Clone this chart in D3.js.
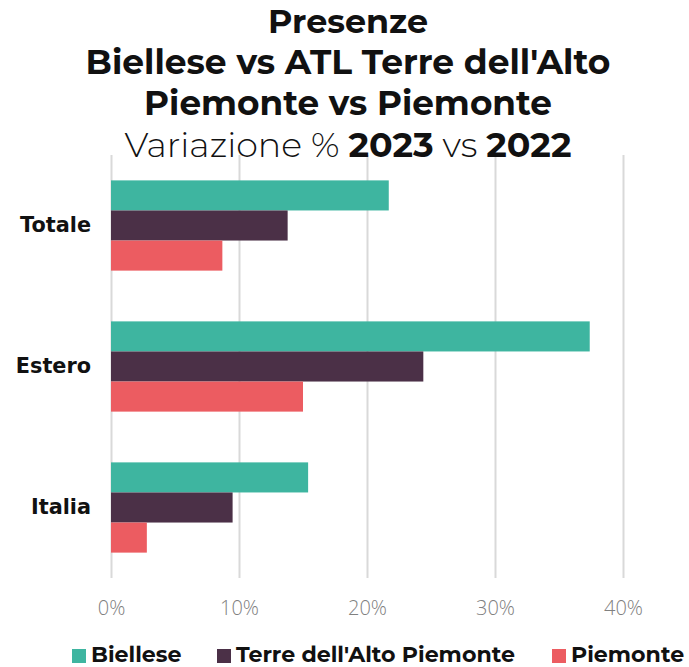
<!DOCTYPE html>
<html>
<head>
<meta charset="utf-8">
<script src="https://cdn.jsdelivr.net/npm/d3@7"></script>
<style>
  body { margin: 0; background: #fff; }
  svg { display: block; font-family: "Montserrat", "DejaVu Sans", sans-serif; }
</style>
</head>
<body>
<div id="chart"></div>
<script>
// data (% change 2023 vs 2022)
const categories = ["Totale", "Estero", "Italia"];
const seriesNames = ["Biellese", "Terre dell'Alto Piemonte", "Piemonte"];
const biellese = [21.7, 37.4, 15.4];
const terreAltoPiemonte = [13.8, 24.4, 9.5];
const piemonte = [8.7, 15.0, 2.8];
const xTicks = [0, 10, 20, 30, 40];
const titleLines = ["Presenze", "Biellese vs ATL Terre dell'Alto", "Piemonte vs Piemonte"];

const colors = ["#3eb5a0", "#4b3047", "#ec5c61"];
const seriesValues = [biellese, terreAltoPiemonte, piemonte];

const width = 689, height = 667;
const margin = { top: 155, right: 66, bottom: 89, left: 111 };
const font = "\"DejaVu Sans\", sans-serif";

const svg = d3.select("#chart").append("svg")
    .attr("width", width)
    .attr("height", height);

// shrink/grow a text so it spans the width seen in the picture
function fit(sel, target) {
    const node = sel.node();
    const fs = parseFloat(sel.attr("font-size"));
    const w = node.getComputedTextLength();
    sel.attr("font-size", fs * target / w);
}

const x = d3.scaleLinear()
    .domain([0, 40])
    .range([margin.left, width - margin.right]);

const y = d3.scaleBand()
    .domain(categories)
    .range([margin.top, height - margin.bottom])
    .paddingInner(0.36)
    .paddingOuter(0.18);

const ySub = d3.scaleBand()
    .domain(seriesNames)
    .range([0, y.bandwidth()]);

// grid + x labels
const gx = svg.append("g")
    .attr("transform", `translate(0,${height - margin.bottom})`)
    .call(d3.axisBottom(x)
        .tickValues(xTicks)
        .tickSize(-(height - margin.top - margin.bottom))
        .tickPadding(23)
        .tickFormat(d => d + "%"));
gx.select(".domain").remove();
gx.selectAll(".tick line").attr("stroke", "#d9d9d9").attr("stroke-width", 2);
gx.selectAll(".tick text")
    .attr("fill", "#808080")
    .attr("font-size", 20)
    .attr("font-weight", 300)
    .attr("font-family", "\"Open Sans\", sans-serif");

// bars
const rows = categories.map((c, i) => ({ cat: c, vals: seriesNames.map((s, j) => ({ s, v: seriesValues[j][i], c: colors[j] })) }));

svg.append("g").selectAll("g")
    .data(rows)
    .join("g")
    .attr("transform", d => `translate(0,${y(d.cat)})`)
    .selectAll("rect")
    .data(d => d.vals)
    .join("rect")
    .attr("x", x(0))
    .attr("y", d => ySub(d.s))
    .attr("width", d => x(d.v) - x(0))
    .attr("height", ySub.bandwidth())
    .attr("fill", d => d.c);

// category labels
const gy = svg.append("g")
    .attr("transform", `translate(${margin.left},0)`)
    .call(d3.axisLeft(y).tickSize(0).tickPadding(20));
gy.select(".domain").remove();
gy.attr("font-family", font);
gy.selectAll(".tick text")
    .attr("fill", "#111")
    .attr("font-size", 19)
    .attr("font-weight", 700);
// same size for all three, taken from "Totale"
const tot = gy.select(".tick text");
fit(tot, 71);
gy.selectAll(".tick text").attr("font-size", tot.attr("font-size"));

// title
const titleY = [33, 74, 115];
const titleW = [160, 525, 408];
titleLines.forEach((t, i) => {
    const tt = svg.append("text")
        .attr("x", 348)
        .attr("y", titleY[i])
        .attr("text-anchor", "middle")
        .attr("font-size", 29)
        .attr("font-weight", 700)
        .attr("fill", "#111")
        .text(t);
    fit(tt, titleW[i]);
});
const sub = svg.append("text")
    .attr("x", 348)
    .attr("y", 157)
    .attr("text-anchor", "middle")
    .attr("font-size", 29)
    .attr("fill", "#111");
sub.append("tspan").attr("font-weight", 300).text("Variazione % ");
sub.append("tspan").attr("font-weight", 700).text("2023");
sub.append("tspan").attr("font-weight", 300).text(" vs ");
sub.append("tspan").attr("font-weight", 700).text("2022");
fit(sub, 447);

// legend
const legendX = [72, 217, 552];
const leg = svg.append("g").selectAll("g")
    .data(seriesNames)
    .join("g")
    .attr("transform", (d, i) => `translate(${legendX[i]},0)`);
leg.append("rect")
    .attr("y", 649)
    .attr("width", 14)
    .attr("height", 14)
    .attr("fill", (d, i) => colors[i]);
const legText = leg.append("text")
    .attr("x", 19)
    .attr("y", 662)
    .attr("font-size", 18)
    .attr("font-weight", 700)
    .attr("fill", "#111")
    .text(d => d);
// one size for all, from the longest label
const longest = legText.filter((d, i) => i === 1);
fit(longest, 279);
legText.attr("font-size", longest.attr("font-size"));
</script>
</body>
</html>
